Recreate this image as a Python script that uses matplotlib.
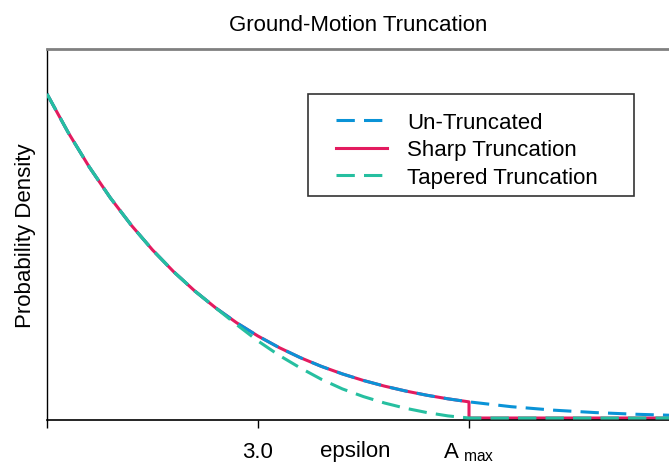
import matplotlib.pyplot as plt
from matplotlib.lines import Line2D
from matplotlib.patches import Rectangle

plt.rcParams['font.family'] = ['Liberation Sans', 'DejaVu Sans']
plt.rcParams['mathtext.fontset'] = 'custom'
plt.rcParams['mathtext.rm'] = 'Liberation Sans'

# values (epsilon, density)
eps = [2.50, 2.55, 2.60, 2.65, 2.70, 2.75, 2.80, 2.85, 2.90, 2.95,
       3.00, 3.05, 3.10, 3.15, 3.20, 3.25, 3.30, 3.35, 3.40, 3.45,
       3.50, 3.60, 3.70, 3.80, 3.90, 4.00]
untrunc = [0.017529, 0.015451, 0.013584, 0.011912, 0.010420, 0.009092,
           0.007915, 0.006874, 0.005952, 0.005142, 0.004432, 0.003810,
           0.003267, 0.002793, 0.002384, 0.002029, 0.001723, 0.001459,
           0.001232, 0.001038, 0.000873, 0.000612, 0.000425, 0.000292,
           0.000199, 0.000134]
tapered = [0.017529, 0.015451, 0.013584, 0.011912, 0.010420, 0.009092,
           0.007915, 0.006874, 0.005952, 0.005039, 0.004166, 0.003391,
           0.002712, 0.002095, 0.001573, 0.001157, 0.000810, 0.000525,
           0.000296, 0.000114, 0.0, 0.0, 0.0, 0.0, 0.0, 0.0]
a_max = 3.50
tick_pos = [2.5, 3.0, a_max]
tick_lbl = ['', '3.0', r'$\mathrm{A}_{\ \mathrm{max}}$']
labels = ['Un-Truncated', 'Sharp Truncation', 'Tapered Truncation']

# sharp truncation: same as un-truncated up to A_max, then drops to zero
sharp_x = [e for e in eps if e <= a_max] + [a_max, eps[-1]]
sharp_y = [u for e, u in zip(eps, untrunc) if e <= a_max] + [0.0, 0.0]

blue = '#0a93d7'
red = '#e31b5f'
green = '#26bfa0'

fig = plt.figure(figsize=(6.69, 4.64), dpi=100)
ax = fig.add_axes([47 / 669, 43 / 464, 1 - 47 / 669, 371 / 464])

ax.plot(sharp_x, sharp_y, color=red, lw=2.2, zorder=2)
ax.plot(eps, untrunc, color=blue, lw=2.2, dashes=(6, 3), zorder=3)
ax.plot(eps, tapered, color=green, lw=2.2, dashes=(6, 3), zorder=4)

ax.set_xlim(2.5, 2.5 + 622 / 422)
ax.set_ylim(-0.000108, 0.01996)
ax.set_xticks(tick_pos)
ax.set_xticklabels(tick_lbl)
ax.set_yticks([])
ax.tick_params(axis='x', direction='out', length=6, width=1, pad=9,
               labelsize=16)

ax.spines['right'].set_visible(False)
ax.spines['top'].set_color('#808080')
ax.spines['top'].set_linewidth(2)
ax.spines['left'].set_linewidth(1)
ax.spines['bottom'].set_linewidth(1.2)

ax.set_title('Ground-Motion Truncation', fontsize=16, pad=14)
ax.set_ylabel('Probability Density', fontsize=16, labelpad=8)
ax.set_xlabel('epsilon', fontsize=16)
ax.xaxis.set_label_coords(0.495, -0.055)

# legend box drawn separately so the padding can match
ax.add_patch(Rectangle((0.4196, 0.6038), 0.524, 0.275, transform=ax.transAxes,
                       facecolor='white', edgecolor='#333333', lw=1.2, zorder=5))
handles = [
    Line2D([], [], color=blue, lw=2.2, dashes=(6, 3)),
    Line2D([], [], color=red, lw=2.2),
    Line2D([], [], color=green, lw=2.2, dashes=(6, 3)),
]
leg = ax.legend(handles, labels, loc='upper left',
                bbox_to_anchor=(0.4646, 0.830), borderaxespad=0,
                borderpad=0, frameon=False, fontsize=16,
                handlelength=2.3, handletextpad=0.9, labelspacing=0.28)
leg.set_zorder(6)

fig.savefig('out.png', dpi=100)
